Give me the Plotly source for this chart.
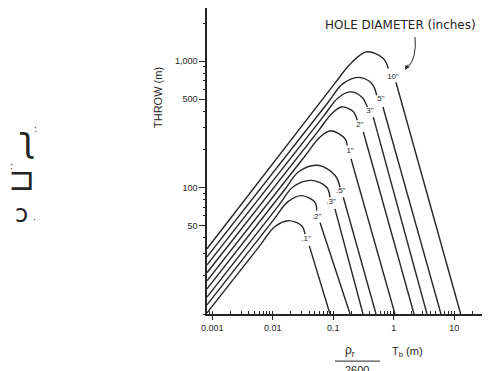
import plotly.graph_objects as go

# hole diameters, one curve each (largest first)
hole_labels = ['10"', '5"', '3"', '2"', '1"', '.5"', '.3"', '.2"', '.1"']

# rising leg + rounded cap (x = rho_r/2600 * Tb in m, y = throw in m)
cap_x = [
    [0.00082, 0.107, 0.190, 0.358, 0.673, 0.814],
    [0.00082, 0.0802, 0.142, 0.260, 0.433, 0.524],
    [0.00082, 0.067, 0.119, 0.190, 0.296, 0.366],
    [0.00082, 0.0544, 0.0962, 0.138, 0.212, 0.250],
    [0.00082, 0.0337, 0.0596, 0.092, 0.157, 0.171],
    [0.00082, 0.0154, 0.0272, 0.0561, 0.107, 0.1295],
    [0.00082, 0.0125, 0.0221, 0.0441, 0.0781, 0.0885],
    [0.00082, 0.0101, 0.0179, 0.0301, 0.050, 0.0533],
    [0.00082, 0.0061, 0.0108, 0.0181, 0.0301, 0.0342],
]
cap_y = [
    [32.8, 669, 946, 1185, 1050, 875],
    [28.3, 464, 657, 743, 665, 537],
    [24.5, 359, 509, 571, 521, 434],
    [21.2, 273, 387, 434, 401, 340],
    [18.3, 176, 249, 281, 243, 215],
    [15.8, 94.7, 134, 150, 125, 100.5],
    [13.6, 71.9, 102, 114, 100.5, 83.8],
    [11.8, 54.7, 77.4, 86.4, 76.4, 65.7],
    [10.2, 34.6, 49.0, 54.7, 49.9, 42.9],
]

# steep falling leg below each label
fall_x = [
    [1.09, 12.8], [0.665, 6.05], [0.460, 3.55], [0.315, 2.17], [0.197, 1.05],
    [0.147, 0.510], [0.107, 0.311], [0.0605, 0.190], [0.0403, 0.0885],
]
fall_y = [
    [681, 10], [434, 10], [361, 10], [275, 10], [169, 10],
    [83.8, 10], [67.8, 10], [53.0, 10], [34.6, 10],
]

# where the diameter labels sit
label_x = [0.974, 0.617, 0.406, 0.277, 0.190, 0.133, 0.092, 0.0533, 0.0355]
label_y = [750, 506, 403, 311, 193, 94.7, 76.4, 58.1, 39.2]

x_ticks = [0.001, 0.01, 0.1, 1, 10]
x_tick_text = ["0.001", "0.01", "0.1", "1", "10"]
y_ticks = [50, 100, 500, 1000]
y_tick_text = ["50", "100", "500", "1,000"]

INK = "#262626"
FONT = "Liberation Sans"

fig = go.Figure()

for i in range(len(hole_labels)):
    fig.add_trace(go.Scatter(
        x=cap_x[i], y=cap_y[i], mode="lines",
        line=dict(color=INK, width=1.4, shape="spline", smoothing=1.0),
        hoverinfo="skip", showlegend=False,
    ))
    fig.add_trace(go.Scatter(
        x=fall_x[i], y=fall_y[i], mode="lines",
        line=dict(color=INK, width=1.4),
        hoverinfo="skip", showlegend=False,
    ))

fig.add_trace(go.Scatter(
    x=label_x, y=label_y, mode="text", text=hole_labels,
    textfont=dict(family=FONT, size=8, color=INK),
    hoverinfo="skip", showlegend=False,
))

fig.update_xaxes(
    type="log", range=[-3.086, 1.592],
    tickvals=x_ticks, ticktext=x_tick_text,
    showline=True, linecolor=INK, linewidth=1.5,
    ticks="outside", ticklen=4, tickcolor=INK, tickwidth=1,
    tickfont=dict(family=FONT, size=9, color=INK),
    minor=dict(ticks="inside", ticklen=3, tickcolor=INK, dtick="D1", showgrid=False),
    showgrid=False, zeroline=False,
)
fig.update_yaxes(
    type="log", range=[1, 3.42],
    tickvals=y_ticks, ticktext=y_tick_text,
    showline=True, linecolor=INK, linewidth=1.5,
    ticks="outside", ticklen=6, tickcolor=INK, tickwidth=1,
    tickfont=dict(family=FONT, size=9, color=INK),
    minor=dict(ticks="outside", ticklen=2, tickcolor=INK, dtick="D1", showgrid=False),
    showgrid=False, zeroline=False,
)


def note(text, x, y, size, family=FONT, **kw):
    return dict(text=text, x=x, y=y, xref="paper", yref="paper",
                xanchor=kw.pop("xanchor", "center"), yanchor="middle",
                showarrow=False, font=dict(family=family, size=size, color=INK), **kw)


annotations = [
    note("HOLE DIAMETER (inches)", 0.41, 0.944, 12, family="DejaVu Sans", xanchor="left"),
    dict(text="", x=0.6996, y=0.797, xref="paper", yref="paper",
         ax=4, ay=-7, showarrow=True, arrowhead=2, arrowsize=0.9,
         arrowwidth=1, arrowcolor=INK),
    note("THROW (m)", -0.173, 0.706, 11, textangle=-90),
    note("ρ<sub>r</sub>", 0.505, -0.121, 12),
    note("2600", 0.530, -0.183, 11),
    note("T<sub>b</sub> (m)", 0.710, -0.124, 11),
    # stray marks in the left margin of the scan
    note("ʅ", -0.636, 0.569, 36, family="DejaVu Sans"),
    note(":", -0.605, 0.605, 9, family="DejaVu Sans"),
    note("⊐", -0.655, 0.441, 32, family="DejaVu Sans"),
    note(":", -0.69, 0.485, 9, family="DejaVu Sans"),
    note("ɔ", -0.654, 0.327, 24, family="DejaVu Sans"),
    note(".", -0.610, 0.318, 9, family="DejaVu Sans"),
]

shapes = [
    # fraction bar under rho_r
    dict(type="line", xref="paper", yref="paper", x0=0.452, x1=0.611, y0=-0.154, y1=-0.154,
         line=dict(color=INK, width=1)),
    # curved leader from the heading to the 10" curve
    dict(type="path", xref="paper", yref="paper",
         path="M 0.735 0.905 Q 0.742 0.84 0.71 0.805",
         line=dict(color=INK, width=1)),
]

# the page body adds an 8px offset, so the figure is sized to end at the window edge
fig.update_layout(
    width=482, height=363,
    margin=dict(l=199, r=0, t=0, b=57),
    paper_bgcolor="white", plot_bgcolor="white",
    annotations=annotations, shapes=shapes,
    showlegend=False,
)

fig.write_html("out.html")
